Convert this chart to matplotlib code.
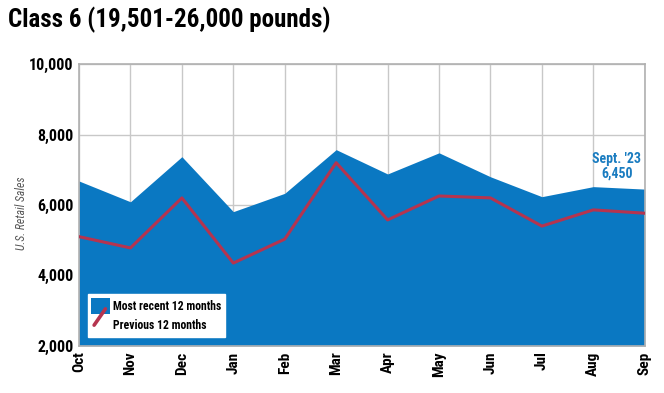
import matplotlib
matplotlib.use("Agg")
import matplotlib.pyplot as plt
from matplotlib.patches import Patch
from matplotlib.lines import Line2D
from matplotlib.legend_handler import HandlerBase

kuukaudet = ["Oct", "Nov", "Dec", "Jan", "Feb", "Mar", "Apr", "May", "Jun", "Jul", "Aug", "Sep"]
uusimmat = [6680, 6090, 7370, 5810, 6330, 7570, 6880, 7480, 6800, 6235, 6520, 6450]
edelliset = [5100, 4780, 6200, 4350, 5030, 7200, 5575, 6255, 6200, 5400, 5860, 5765]
ytikit = [2000, 4000, 6000, 8000, 10000]

sininen = "#0a78c2"
punainen = "#b5344f"
fontti = ["Roboto Condensed", "Barlow Condensed", "DejaVu Sans"]
plt.rcParams["font.family"] = fontti


class VinoViiva(HandlerBase):
    # legendan punainen merkki on vino viiva
    def create_artists(self, legend, orig, x0, y0, w, h, fontsize, trans):
        viiva = Line2D([x0 + w * 0.15, x0 + w * 0.75], [y0 - h * 0.05, y0 + h * 0.95],
                       color=orig.get_color(), lw=2.6, solid_capstyle="round",
                       transform=trans)
        return [viiva]


fig = plt.figure(figsize=(6.64, 3.93), dpi=100)
ax = fig.add_axes([0.119, 0.120, 0.852, 0.717])

x = range(len(kuukaudet))
ax.fill_between(x, 2000, uusimmat, color=sininen, lw=0, zorder=2)
viiva, = ax.plot(x, edelliset, color=punainen, lw=2.2, zorder=3)

ax.set_xlim(0, len(kuukaudet) - 1)
ax.set_ylim(2000, 10000)
ax.set_xticks(list(x))
ax.set_xticklabels(kuukaudet, rotation=90, fontweight="bold", fontsize=11)
ax.set_yticks(ytikit)
ax.set_yticklabels([f"{v:,}" for v in ytikit], fontweight="bold", fontsize=11.5)
ax.tick_params(length=0, pad=4)
ax.grid(True, color="#c8c8c8", lw=1, zorder=1)
for s in ax.spines.values():
    s.set_color("#b0b0b0")
    s.set_linewidth(1.2)

fig.text(22 / 664, 1 - 213 / 393, "U.S. Retail Sales", fontstyle="italic", fontsize=8.5,
         color="#555555", rotation=90, ha="center", va="center")

ax.text(10.46, 6700, "Sept. '23\n6,450", ha="center", va="bottom", color="#1a7cc0",
        fontweight="bold", fontsize=10, linespacing=1.0, zorder=4)

kahvat = [Patch(facecolor=sininen, edgecolor="none"), viiva]
leg = ax.legend(kahvat, ["Most recent 12 months", "Previous 12 months"],
                loc="lower left", bbox_to_anchor=(0.005, 0.012), fancybox=False, framealpha=1,
                edgecolor="white", prop={"weight": "bold", "size": 8.5},
                handlelength=1.6, handleheight=1.75, handletextpad=0.25, borderpad=0.3,
                labelspacing=0.2, handler_map={Line2D: VinoViiva()})
leg.set_zorder(5)

fig.text(0.012, 0.95, "Class 6 (19,501-26,000 pounds)", fontweight="bold",
         fontsize=18, va="center", ha="left")

fig.savefig("out.png", dpi=100)
